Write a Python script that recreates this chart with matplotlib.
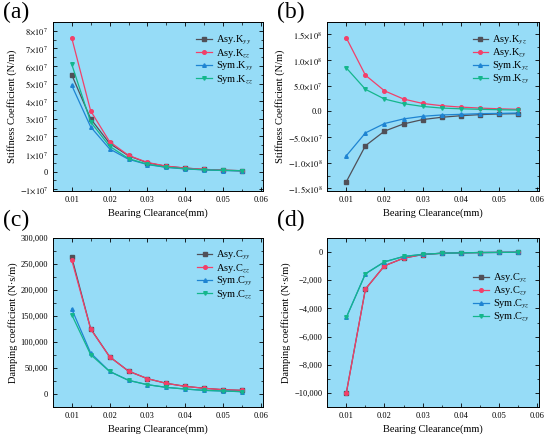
import matplotlib
matplotlib.use("Agg")
import matplotlib.pyplot as plt
from matplotlib.ticker import FixedLocator, FuncFormatter, AutoMinorLocator

plt.rcParams['font.family'] = ['Liberation Serif', 'DejaVu Serif']
plt.rcParams['mathtext.fontset'] = 'stix'

clearance = [0.010, 0.015, 0.020, 0.025, 0.030, 0.035, 0.040, 0.045, 0.050, 0.055]

# (a) direct stiffness (N/m)
asy_kyy = [5.5e7, 3.0e7, 1.6e7, 0.90e7, 0.50e7, 0.30e7, 0.20e7, 0.12e7, 0.08e7, 0.05e7]
asy_kzz = [7.6e7, 3.45e7, 1.7e7, 0.92e7, 0.52e7, 0.31e7, 0.20e7, 0.13e7, 0.08e7, 0.05e7]
sym_kyy = [4.9e7, 2.54e7, 1.29e7, 0.70e7, 0.40e7, 0.24e7, 0.15e7, 0.10e7, 0.06e7, 0.04e7]
sym_kzz = [6.1e7, 2.82e7, 1.44e7, 0.74e7, 0.42e7, 0.25e7, 0.16e7, 0.10e7, 0.07e7, 0.05e7]

# (b) cross stiffness (N/m)
asy_kyz = [-1.37e8, -0.67e8, -0.385e8, -0.245e8, -0.16e8, -0.115e8, -0.085e8, -0.064e8, -0.05e8, -0.045e8]
asy_kzy = [1.43e8, 0.705e8, 0.40e8, 0.24e8, 0.154e8, 0.11e8, 0.083e8, 0.064e8, 0.05e8, 0.04e8]
sym_kyz = [-0.865e8, -0.42e8, -0.237e8, -0.147e8, -0.096e8, -0.07e8, -0.058e8, -0.045e8, -0.04e8, -0.032e8]
sym_kzy = [0.846e8, 0.43e8, 0.24e8, 0.15e8, 0.096e8, 0.064e8, 0.05e8, 0.04e8, 0.032e8, 0.026e8]

# (c) direct damping (N*s/m)
asy_cyy = [263000, 125600, 71800, 44000, 29500, 20500, 14700, 11000, 8300, 7000]
asy_czz = [257700, 125000, 71500, 44000, 29500, 20500, 14700, 11000, 8300, 7000]
sym_cyy = [163500, 78800, 43600, 26300, 18000, 12800, 9600, 7000, 5800, 4500]
sym_czz = [152600, 75600, 43400, 26200, 17900, 12700, 9500, 7000, 5700, 4500]

# (d) cross damping (N*s/m)
asy_cyz = [-10000, -2630, -970, -430, -170, -80, -50, -30, -20, -10]
asy_czy = [-10000, -2630, -970, -430, -170, -80, -50, -30, -20, -10]
sym_cyz = [-4640, -1540, -690, -310, -160, -80, -50, -30, -20, -10]
sym_czy = [-4640, -1540, -690, -310, -160, -80, -50, -30, -20, -10]

labels_a = [r'Asy.K$_{yy}$', r'Asy.K$_{zz}$', r'Sym.K$_{yy}$', r'Sym.K$_{zz}$']
labels_b = [r'Asy.K$_{yz}$', r'Asy.K$_{zy}$', r'Sym.K$_{yz}$', r'Sym.K$_{zy}$']
labels_c = [r'Asy.C$_{yy}$', r'Asy.C$_{zz}$', r'Sym.C$_{yy}$', r'Sym.C$_{zz}$']
labels_d = [r'Asy.C$_{yz}$', r'Asy.C$_{zy}$', r'Sym.C$_{yz}$', r'Sym.C$_{zy}$']

ticks_a = [-1e7, 0, 1e7, 2e7, 3e7, 4e7, 5e7, 6e7, 7e7, 8e7]
ticks_b = [-1.5e8, -1.0e8, -0.5e8, 0, 0.5e8, 1.0e8, 1.5e8]
ticks_c = [0, 50000, 100000, 150000, 200000, 250000, 300000]
ticks_d = [-10000, -8000, -6000, -4000, -2000, 0]
xticks = [0.01, 0.02, 0.03, 0.04, 0.05, 0.06]

colors = ['#505058', '#f2406a', '#1e84d2', '#14b68c']
markers = ['s', 'o', '^', 'v']
bg = '#96dcf7'


def fmt_a(v, pos):
    if v == 0:
        return '0'
    m = int(round(v / 1e7))
    return rf'${"-" if m < 0 else ""}{abs(m)}{{\times}}10^{{7}}$'


def fmt_b(v, pos):
    if abs(v) < 1:
        return '0.0'
    sign = '-' if v < 0 else ''
    a = abs(v)
    if a >= 1e8 - 1:
        return rf'${sign}{a/1e8:.1f}{{\times}}10^{{8}}$'
    return rf'${sign}{a/1e7:.1f}{{\times}}10^{{7}}$'


def fmt_c(v, pos):
    return f'{int(round(v)):,}'


def fmt_d(v, pos):
    return f'{int(round(v)):,}'.replace('-', '\u2212')


fig = plt.figure(figsize=(5.5, 4.4), dpi=100)
pos = {
    'a': [0.096, 0.566, 0.382, 0.384],
    'b': [0.595, 0.566, 0.385, 0.384],
    'c': [0.096, 0.075, 0.382, 0.384],
    'd': [0.595, 0.075, 0.385, 0.384],
}

panels = [
    ('a', [asy_kyy, asy_kzz, sym_kyy, sym_kzz], labels_a, ticks_a, fmt_a, (-1.1e7, 8.5e7),
     'Stiffness Coefficient (N/m)', (1.0, 0.985), 'upper right'),
    ('b', [asy_kyz, asy_kzy, sym_kyz, sym_kzy], labels_b, ticks_b, fmt_b, (-1.55e8, 1.74e8),
     'Stiffness Coefficient (N/m)', (1.0, 0.985), 'upper right'),
    ('c', [asy_cyy, asy_czz, sym_cyy, sym_czz], labels_c, ticks_c, fmt_c, (-25000, 300000),
     'Damping coefficient (N\u00b7s/m)', (1.0, 0.99), 'upper right'),
    ('d', [asy_cyz, asy_czy, sym_cyz, sym_czy], labels_d, ticks_d, fmt_d, (-11000, 1000),
     'Damping coefficient (N\u00b7s/m)', (1.0, 0.645), 'center right'),
]

for key, series, labels, yt, fmt, ylim, ylabel, anchor, loc in panels:
    ax = fig.add_axes(pos[key])
    ax.set_facecolor(bg)
    for ys, lab, c, m in zip(series, labels, colors, markers):
        ax.plot(clearance, ys, color=c, marker=m, markersize=2.6, linewidth=0.9, label=lab)
    ax.set_xlim(0.005, 0.0605)
    ax.set_ylim(*ylim)
    ax.xaxis.set_major_locator(FixedLocator(xticks))
    ax.yaxis.set_major_locator(FixedLocator(yt))
    ax.xaxis.set_major_formatter(FuncFormatter(lambda v, p: f'{v:.2f}'))
    ax.yaxis.set_major_formatter(FuncFormatter(fmt))
    ax.xaxis.set_minor_locator(AutoMinorLocator(2))
    ax.yaxis.set_minor_locator(AutoMinorLocator(2))
    ax.tick_params(which='both', direction='in', top=True, right=True, labelsize=6)
    ax.tick_params(which='major', length=3, width=0.6)
    ax.tick_params(which='minor', length=1.8, width=0.5)
    for sp in ax.spines.values():
        sp.set_linewidth(0.7)
    ax.set_xlabel('Bearing Clearance(mm)', fontsize=7.5, labelpad=3)
    ax.set_ylabel(ylabel, fontsize=7.5, labelpad=2)
    ax.legend(loc=loc, bbox_to_anchor=anchor, frameon=False, fontsize=7.5,
              handlelength=1.5, borderaxespad=0.6, borderpad=0.3,
              labelspacing=0.0, handletextpad=0.4)

fig.text(0.005, 0.995, '(a)', fontsize=17, va='top', ha='left')
fig.text(0.503, 0.995, '(b)', fontsize=17, va='top', ha='left')
fig.text(0.005, 0.522, '(c)', fontsize=17, va='top', ha='left')
fig.text(0.503, 0.522, '(d)', fontsize=17, va='top', ha='left')

fig.savefig('out.png', dpi=100, facecolor='white')
